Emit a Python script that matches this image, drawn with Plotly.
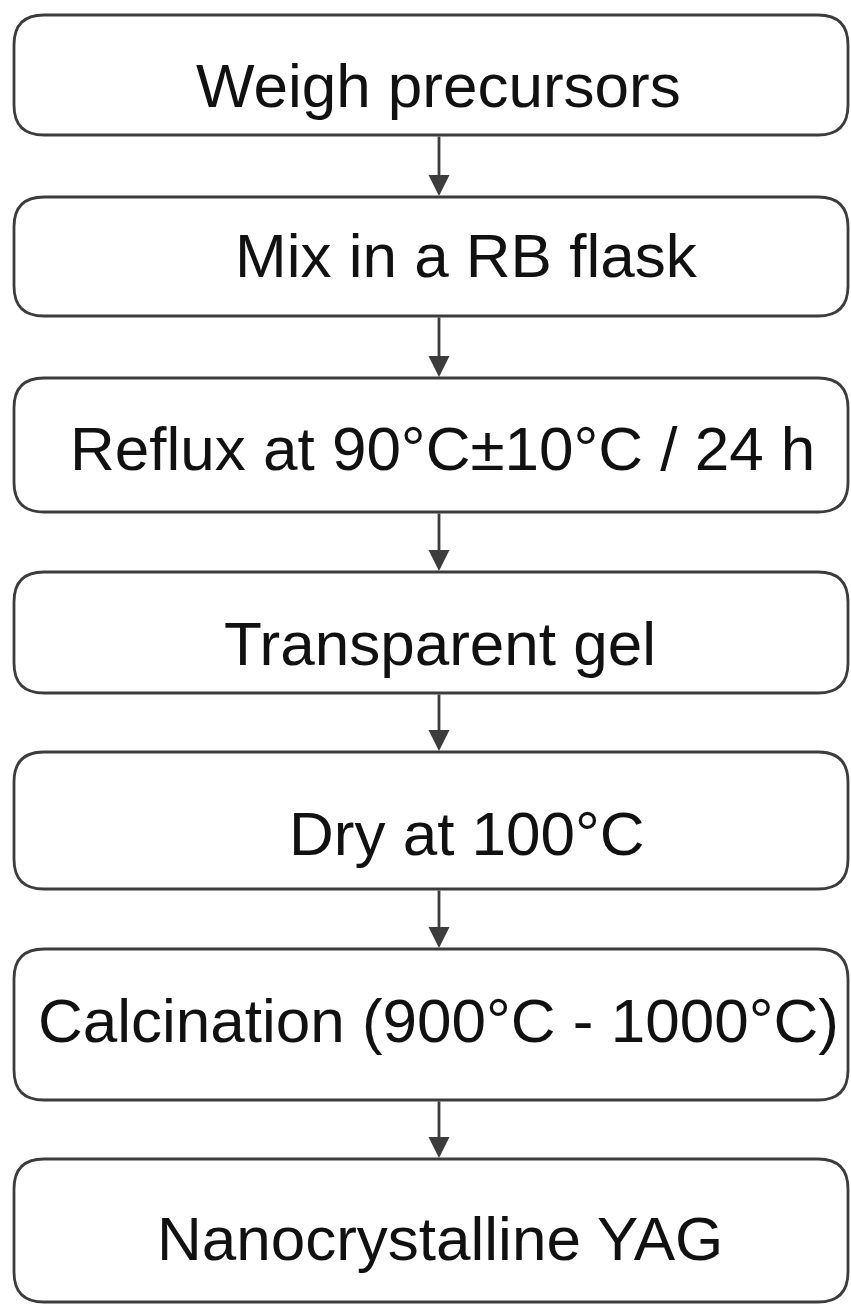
import plotly.graph_objects as go

# Flowchart content
steps = [
    "Weigh precursors",
    "Mix in a RB flask",
    "Reflux at 90°C±10°C / 24 h",
    "Transparent gel",
    "Dry at 100°C",
    "Calcination (900°C - 1000°C)",
    "Nanocrystalline YAG",
]
box_top = [15, 197, 378, 572, 752, 949, 1159]
box_bottom = [135, 316, 512, 693, 889, 1100, 1302]
text_x = [438, 466, 442, 440, 467, 438, 440]
text_y = [85, 255, 448, 643, 833, 1020, 1238]

W, H = 851, 1305
LEFT, RIGHT, R = 14, 848, 30
ARROW_X = 439
LINE = "#3c3c3c"

fig = go.Figure()


def rounded(x0, y0, x1, y1, r):
    return (f"M {x0+r},{y0} L {x1-r},{y0} Q {x1},{y0} {x1},{y0+r} "
            f"L {x1},{y1-r} Q {x1},{y1} {x1-r},{y1} L {x0+r},{y1} "
            f"Q {x0},{y1} {x0},{y1-r} L {x0},{y0+r} Q {x0},{y0} {x0+r},{y0} Z")


shapes = []
annotations = []
for i, s in enumerate(steps):
    shapes.append(dict(type="path", xref="x", yref="y",
                       path=rounded(LEFT, box_top[i], RIGHT, box_bottom[i], R),
                       line=dict(color=LINE, width=2.8), fillcolor="white"))
    annotations.append(dict(x=text_x[i], y=text_y[i], xref="x", yref="y",
                            text=s, showarrow=False, xanchor="center", yanchor="middle",
                            font=dict(family="Liberation Sans, Arial", size=62, color="#111111")))
    if i < len(steps) - 1:
        annotations.append(dict(x=ARROW_X, y=box_top[i + 1] - 1, ax=ARROW_X, ay=box_bottom[i],
                                xref="x", yref="y", axref="x", ayref="y", text="",
                                showarrow=True, arrowhead=2, arrowsize=1.5, arrowwidth=2.8,
                                arrowcolor=LINE, standoff=0, startstandoff=0))

fig.update_layout(
    width=W, height=H, margin=dict(l=0, r=0, t=0, b=0),
    paper_bgcolor="white", plot_bgcolor="white",
    xaxis=dict(range=[0, W], visible=False, fixedrange=True),
    yaxis=dict(range=[H, 0], visible=False, fixedrange=True),
    shapes=shapes, annotations=annotations, showlegend=False,
)
fig.write_html("out.html", config={"displayModeBar": False},
               post_script="document.body.style.margin='0';document.body.style.overflow='hidden';")
